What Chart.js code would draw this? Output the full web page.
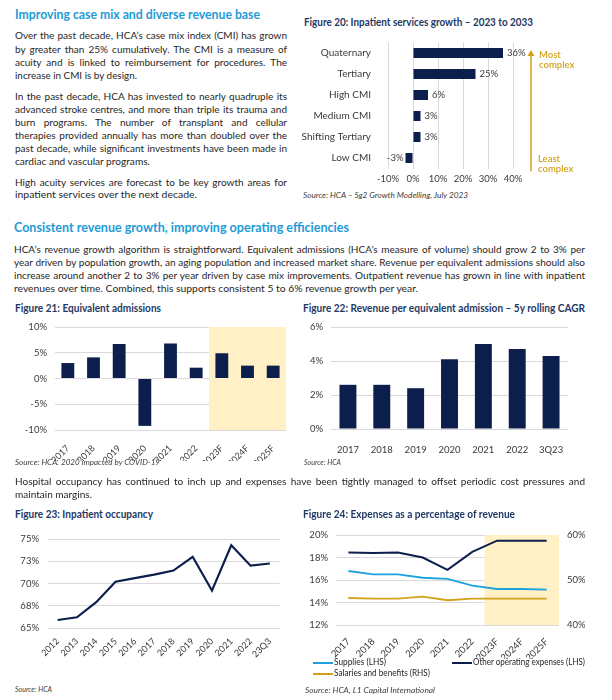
<!DOCTYPE html>
<html><head><meta charset="utf-8">
<script src="https://cdn.jsdelivr.net/npm/chart.js@4.4.1/dist/chart.umd.min.js"></script>
<style>
html,body{margin:0;padding:0;background:#fff;}
body{width:612px;height:700px;position:relative;overflow:hidden;font-family:Lato,"Open Sans",sans-serif;color:#262626;}
.t{position:absolute;white-space:nowrap;transform-origin:0 50%;line-height:1.2;font-size:10px;}
.h{font-size:13px;font-weight:700;color:#1E9BD7;}
.f{font-size:10.5px;font-weight:700;color:#1F3864;}
.s{font-size:8.5px;font-style:italic;color:#404040;}
.lg{font-size:9px;color:#262626;}
canvas{position:absolute;}
.sw{position:absolute;height:2px;width:20px;}
</style></head>
<body>
<div class="t h" data-x="15" data-y="16" data-w="245">Improving case mix and diverse revenue base</div>

<div class="t" data-x="15" data-y="36" data-w="272" data-j="1">Over the past decade, HCA’s case mix index (CMI) has grown</div>
<div class="t" data-x="15" data-y="49.3" data-w="272" data-j="1">by greater than 25% cumulatively. The CMI is a measure of</div>
<div class="t" data-x="15" data-y="62.7" data-w="272" data-j="1">acuity and is linked to reimbursement for procedures. The</div>
<div class="t" data-x="15" data-y="76" data-w="122">increase in CMI is by design.</div>

<div class="t" data-x="15" data-y="96.7" data-w="272" data-j="1">In the past decade, HCA has invested to nearly quadruple its</div>
<div class="t" data-x="15" data-y="109.4" data-w="272" data-j="1">advanced stroke centres, and more than triple its trauma and</div>
<div class="t" data-x="15" data-y="122.3" data-w="272" data-j="1">burn programs. The number of transplant and cellular</div>
<div class="t" data-x="15" data-y="135.8" data-w="272" data-j="1">therapies provided annually has more than doubled over the</div>
<div class="t" data-x="15" data-y="148.7" data-w="272" data-j="1">past decade, while significant investments have been made in</div>
<div class="t" data-x="15" data-y="162" data-w="135">cardiac and vascular programs.</div>

<div class="t" data-x="15" data-y="182.3" data-w="272" data-j="1">High acuity services are forecast to be key growth areas for</div>
<div class="t" data-x="15" data-y="194.5" data-w="182">inpatient services over the next decade.</div>

<div class="t f" data-x="304" data-y="22.5" data-w="229">Figure 20: Inpatient services growth – 2023 to 2033</div>
<div class="t s" data-x="303" data-y="195.5" data-w="165">Source: HCA – Sg2 Growth Modelling, July 2023</div>

<div class="t h" data-x="14" data-y="228.3" data-w="335">Consistent revenue growth, improving operating efficiencies</div>
<div class="t" data-x="14" data-y="249.3" data-w="571" data-j="1">HCA’s revenue growth algorithm is straightforward. Equivalent admissions (HCA’s measure of volume) should grow 2 to 3% per</div>
<div class="t" data-x="14" data-y="262.5" data-w="571" data-j="1">year driven by population growth, an aging population and increased market share. Revenue per equivalent admissions should also</div>
<div class="t" data-x="14" data-y="275.7" data-w="571" data-j="1">increase around another 2 to 3% per year driven by case mix improvements. Outpatient revenue has grown in line with inpatient</div>
<div class="t" data-x="14" data-y="288.9" data-w="404">revenues over time. Combined, this supports consistent 5 to 6% revenue growth per year.</div>

<div class="t f" data-x="15" data-y="309.3" data-w="146">Figure 21: Equivalent admissions</div>
<div class="t f" data-x="303" data-y="309.3" data-w="282">Figure 22: Revenue per equivalent admission – 5y rolling CAGR</div>

<canvas id="c20" width="312" height="155" style="left:300px;top:35px;"></canvas>
<canvas id="c21" width="300" height="143" style="left:0px;top:318px;"></canvas>
<canvas id="c22" width="300" height="140" style="left:300px;top:318px;"></canvas>
<canvas id="c23" width="300" height="142" style="left:0px;top:528px;"></canvas>
<canvas id="c24" width="312" height="137" style="left:300px;top:522px;"></canvas>
<div id="legend24"></div>

<div class="t s" data-x="15" data-y="463" data-w="145">Source: HCA. 2020 impacted by COVID-19</div>
<div class="t s" data-x="304" data-y="463" data-w="37">Source: HCA</div>

<div class="t" data-x="15" data-y="482" data-w="570" data-j="1">Hospital occupancy has continued to inch up and expenses have been tightly managed to offset periodic cost pressures and</div>
<div class="t" data-x="15" data-y="495" data-w="77">maintain margins.</div>

<div class="t f" data-x="15" data-y="515.3" data-w="138">Figure 23: Inpatient occupancy</div>
<div class="t f" data-x="303" data-y="515.3" data-w="212">Figure 24: Expenses as a percentage of revenue</div>
<div class="t s" data-x="15" data-y="690" data-w="37">Source: HCA</div>
<div class="t s" data-x="305" data-y="691" data-w="130">Source: HCA, L1 Capital International</div>

<script>
// ---------- DATA ----------
const categories20 = ['Quaternary','Tertiary','High CMI','Medium CMI','Shifting Tertiary','Low CMI'];
const growth20 = [36, 25, 6, 3, 3, -3];

const years21 = ['2017','2018','2019','2020','2021','2022','2023F','2024F','2025F'];
const admissions21 = [3.0, 4.1, 6.7, -9.2, 6.8, 2.1, 4.9, 2.5, 2.5];

const years22 = ['2017','2018','2019','2020','2021','2022','3Q23'];
const cagr22 = [2.6, 2.6, 2.4, 4.1, 5.0, 4.7, 4.3];

const years23 = ['2012','2013','2014','2015','2016','2017','2018','2019','2020','2021','2022','23Q3'];
const occupancy23 = [65.9, 66.2, 67.9, 70.2, 70.6, 71.0, 71.45, 73.0, 69.2, 74.3, 72.0, 72.25];

const years24 = ['2017','2018','2019','2020','2021','2022','2023F','2024F','2025F'];
const supplies24 = [16.8, 16.5, 16.5, 16.2, 16.1, 15.5, 15.2, 15.2, 15.15];
const otherOpex24 = [18.45, 18.4, 18.45, 18.0, 16.9, 18.5, 19.5, 19.5, 19.5];
const salaries24 = [46.0, 45.85, 45.85, 46.3, 45.5, 45.85, 45.85, 45.85, 45.85];
const seriesNames24 = ['Supplies (LHS)','Other operating expenses (LHS)','Salaries and benefits (RHS)'];

// ---------- TEXT FITTING ----------
document.querySelectorAll('.t').forEach(el=>{
  const x=+el.dataset.x, y=+el.dataset.y, w=+el.dataset.w;
  const fs=parseFloat(getComputedStyle(el).fontSize);
  el.style.left=x+'px';
  el.style.top=(y-fs*0.66)+'px';
  const nat=el.getBoundingClientRect().width;
  if(el.dataset.j && nat<w){
    const n=(el.textContent.match(/ /g)||[]).length;
    el.style.wordSpacing=((w-nat)/n)+'px';
  } else {
    el.style.transform='scaleX('+(w/nat)+')';
  }
});

// ---------- CHARTS ----------
const NAVY='#0C1F4C', GRID='#D9D9D9', GOLD='#D2A21B', LBLUE='#1FA2DC', SHADE='#FFF0C6';
Chart.defaults.font.family='Lato';
Chart.defaults.font.size=9.5;
Chart.defaults.color='#3A3A3A';
Chart.defaults.animation=false;
Chart.defaults.plugins.legend.display=false;
Chart.defaults.plugins.tooltip.enabled=false;

// fixes a scale's size and removes its automatic outer padding so layout.padding defines the plot area
const fix=(w,h)=>function(s){ if(w!=null) s.width=w; if(h!=null) s.height=h; s.paddingTop=0; s.paddingBottom=0; s.paddingLeft=0; s.paddingRight=0; };

const shadePlugin={
  id:'shade',
  beforeDatasetsDraw(chart,args,opts){
    if(opts.from==null||opts.from<0) return;
    const xs=chart.scales.x, a=chart.chartArea, ctx=chart.ctx;
    const x0=(xs.getPixelForValue(opts.from-1)+xs.getPixelForValue(opts.from))/2;
    ctx.save(); ctx.fillStyle=SHADE; ctx.fillRect(x0,a.top,a.right-x0,a.bottom-a.top); ctx.restore();
  }
};
const pct=v=>v+'%';

// Figure 20
new Chart(document.getElementById('c20'),{
  type:'bar',
  data:{labels:categories20,datasets:[{data:growth20,backgroundColor:NAVY,barPercentage:0.48,categoryPercentage:1}]},
  options:{
    responsive:false,indexAxis:'y',
    layout:{padding:{top:7.5,right:99,left:0,bottom:0}},
    scales:{
      x:{min:-10,max:40,ticks:{stepSize:10,callback:pct,padding:5,maxRotation:0,minRotation:0,autoSkip:false},grid:{color:GRID,drawTicks:false},border:{display:false},
         afterFit:fix(null,21.5)},
      y:{grid:{display:false},border:{display:false},ticks:{padding:9,font:{size:10}},afterFit:fix(88,null)}
    }
  },
  plugins:[{
    id:'labels20',
    afterDatasetsDraw(chart){
      const ctx=chart.ctx, meta=chart.getDatasetMeta(0);
      ctx.save(); ctx.font='9.5px Lato'; ctx.fillStyle='#3A3A3A'; ctx.textBaseline='middle';
      meta.data.forEach((b,i)=>{
        const v=growth20[i];
        if(v>=0){ctx.textAlign='left';ctx.fillText(v+'%',b.x+4,b.y);}
        else{ctx.textAlign='right';ctx.fillText(v+'%',b.x-2,b.y);}
      });
      ctx.restore();
    },
    afterDraw(chart){
      const ctx=chart.ctx, a=chart.chartArea;
      const ax=a.right+18, top=a.top+7.5, bot=a.bottom+3;
      ctx.save();
      ctx.strokeStyle=GOLD; ctx.fillStyle=GOLD; ctx.lineWidth=1.5;
      ctx.beginPath(); ctx.moveTo(ax,bot); ctx.lineTo(ax,top+5); ctx.stroke();
      ctx.beginPath(); ctx.moveTo(ax,top); ctx.lineTo(ax-3.5,top+6); ctx.lineTo(ax+3.5,top+6); ctx.closePath(); ctx.fill();
      ctx.font='600 9.5px Lato'; ctx.textAlign='left'; ctx.textBaseline='middle';
      ctx.fillText('Most',ax+8,top+5); ctx.fillText('complex',ax+8,top+15);
      ctx.fillText('Least',ax+7,bot-12.5); ctx.fillText('complex',ax+7,bot-2.5);
      ctx.restore();
    }
  }]
});

// Figure 21
new Chart(document.getElementById('c21'),{
  type:'bar',
  data:{labels:years21,datasets:[{data:admissions21,backgroundColor:NAVY,barPercentage:0.5,categoryPercentage:1}]},
  options:{
    responsive:false,
    layout:{padding:{top:9,right:14,left:0,bottom:0}},
    plugins:{shade:{from:years21.findIndex(c=>c.endsWith('F'))}},
    scales:{
      y:{min:-10,max:10,ticks:{stepSize:5,callback:pct,padding:8},grid:{color:GRID,drawTicks:false},border:{display:false},
         afterFit:fix(55,null)},
      x:{grid:{display:false},border:{display:false},ticks:{minRotation:45,maxRotation:45,autoSkip:false,padding:5,font:{size:9}},afterFit:fix(null,31)}
    }
  },
  plugins:[shadePlugin]
});

// Figure 22
new Chart(document.getElementById('c22'),{
  type:'bar',
  data:{labels:years22,datasets:[{data:cagr22,backgroundColor:NAVY,barPercentage:0.5,categoryPercentage:1}]},
  options:{
    responsive:false,
    layout:{padding:{top:9,right:32,left:0,bottom:0}},
    scales:{
      y:{min:0,max:6,ticks:{stepSize:2,callback:pct,padding:8},grid:{color:GRID,drawTicks:false},border:{display:false},
         afterFit:fix(31,null)},
      x:{grid:{display:false},border:{display:false},ticks:{maxRotation:0,minRotation:0,autoSkip:false,padding:7,font:{size:9.5}},afterFit:fix(null,29)}
    }
  }
});

// Figure 23
new Chart(document.getElementById('c23'),{
  type:'line',
  data:{labels:years23,datasets:[{data:occupancy23,borderColor:NAVY,borderWidth:2.2,pointRadius:0,tension:0,fill:false}]},
  options:{
    responsive:false,
    layout:{padding:{top:11,right:20.5,left:0,bottom:0}},
    scales:{
      y:{min:65,max:75,ticks:{stepSize:2.5,callback:v=>Math.round(v)+'%',padding:9},grid:{color:GRID,drawTicks:false},border:{display:false},
         afterFit:fix(48,null)},
      x:{offset:true,grid:{display:false},border:{display:false},ticks:{minRotation:45,maxRotation:45,autoSkip:false,padding:0,font:{size:9}},afterFit:fix(null,42)}
    }
  }
});

// Figure 24
const colors24=[LBLUE,NAVY,GOLD];
new Chart(document.getElementById('c24'),{
  type:'line',
  data:{labels:years24,datasets:[
    {label:seriesNames24[0],data:supplies24,borderColor:colors24[0],borderWidth:1.8,pointRadius:0,yAxisID:'y'},
    {label:seriesNames24[1],data:otherOpex24,borderColor:colors24[1],borderWidth:2,pointRadius:0,yAxisID:'y'},
    {label:seriesNames24[2],data:salaries24,borderColor:colors24[2],borderWidth:1.8,pointRadius:0,yAxisID:'y1'}
  ]},
  options:{
    responsive:false,
    layout:{padding:{top:13,right:27,left:0,bottom:0}},
    plugins:{shade:{from:years24.findIndex(c=>c.endsWith('F'))}},
    scales:{
      y:{position:'left',min:12,max:20,ticks:{stepSize:2,callback:pct,padding:8},grid:{color:GRID,drawTicks:false},border:{display:false},
         afterFit:fix(36,null)},
      y1:{position:'right',min:40,max:60,ticks:{stepSize:10,callback:pct,padding:8},grid:{display:false,drawTicks:false},border:{display:false},
         afterFit:fix(26,null)},
      x:{offset:true,grid:{display:false},border:{display:false},ticks:{minRotation:45,maxRotation:45,autoSkip:false,padding:3,font:{size:9.5}},afterFit:fix(null,34)}
    }
  },
  plugins:[shadePlugin]
});

// Legend for figure 24
const legPos=[[313,663],[452,663],[313,674]];
const legW=[52,112,96];
const lg=document.getElementById('legend24');
seriesNames24.forEach((n,i)=>{
  const sw=document.createElement('div'); sw.className='sw';
  sw.style.left=legPos[i][0]+'px'; sw.style.top=(legPos[i][1]-1)+'px'; sw.style.background=colors24[i];
  lg.appendChild(sw);
  const t=document.createElement('div'); t.className='t lg'; t.textContent=n;
  lg.appendChild(t);
  const fs=9; t.style.left=(legPos[i][0]+21)+'px'; t.style.top=(legPos[i][1]-fs*0.66)+'px';
  const nat=t.getBoundingClientRect().width; t.style.transform='scaleX('+(legW[i]/nat)+')';
});
</script>
</body></html>
